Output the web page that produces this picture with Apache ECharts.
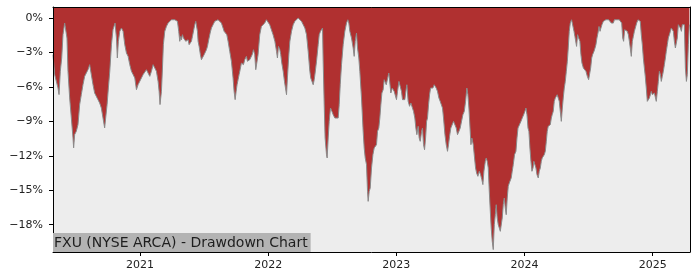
<!DOCTYPE html>
<html>
<head>
<meta charset="utf-8">
<script src="https://cdn.jsdelivr.net/npm/echarts@6/dist/echarts.min.js"></script>
<style>
html,body{margin:0;padding:0;background:#fff;}
#c{width:700px;height:280px;}
</style>
</head>
<body>
<div id="c"></div>
<script>
// Decimal-year dates of the samples
const years = [
2020.321,2020.334,2020.347,2020.360,2020.368,2020.378,2020.389,2020.399,2020.412,2020.425,
2020.430,2020.438,2020.451,2020.464,2020.477,2020.482,2020.490,2020.503,2020.516,2020.529,
2020.542,2020.555,2020.568,2020.581,2020.594,2020.607,2020.620,2020.633,2020.646,2020.659,
2020.672,2020.685,2020.698,2020.711,2020.724,2020.732,2020.743,2020.753,2020.764,2020.777,
2020.789,2020.805,2020.816,2020.823,2020.831,2020.842,2020.855,2020.868,2020.881,2020.894,
2020.907,2020.920,2020.933,2020.946,2020.959,2020.972,2020.985,2020.998,2021.011,2021.024,
2021.037,2021.050,2021.063,2021.076,2021.089,2021.102,2021.115,
2021.128,2021.141,2021.149,2021.156,2021.162,2021.167,2021.175,2021.182,2021.193,2021.206,
2021.219,2021.232,2021.245,2021.258,2021.271,2021.284,2021.292,2021.297,2021.302,2021.310,
2021.318,2021.323,2021.331,2021.339,2021.349,2021.357,2021.367,2021.375,2021.383,2021.391,
2021.401,2021.409,2021.417,2021.427,2021.435,2021.443,2021.448,2021.453,2021.461,2021.471,
2021.479,2021.484,2021.492,2021.500,2021.510,2021.518,2021.526,2021.536,2021.547,2021.557,
2021.570,2021.583,2021.596,2021.609,2021.622,2021.635,2021.648,2021.656,2021.666,2021.677,
2021.687,2021.700,2021.713,2021.726,2021.734,2021.742,2021.750,2021.757,2021.765,2021.773,
2021.781,2021.791,2021.799,2021.807,2021.817,2021.830,2021.838,2021.849,2021.856,2021.864,
2021.875,2021.885,2021.895,2021.903,2021.911,2021.921,2021.934,2021.947,2021.960,2021.973,
2021.986,2021.999,2022.012,2022.025,2022.038,2022.052,2022.065,2022.072,2022.080,2022.091,
2022.098,2022.106,2022.117,2022.127,2022.135,2022.143,2022.150,2022.161,2022.169,2022.182,
2022.195,2022.208,2022.221,2022.234,2022.247,2022.260,2022.273,2022.286,2022.299,2022.312,
2022.325,2022.332,2022.340,2022.351,2022.359,2022.366,2022.377,2022.390,2022.398,2022.408,
2022.418,2022.424,2022.429,2022.437,2022.444,2022.455,2022.460,2022.468,2022.476,2022.486,
2022.497,2022.507,2022.520,2022.533,2022.546,2022.554,2022.562,2022.572,2022.585,2022.598,
2022.611,2022.621,2022.629,2022.637,2022.650,2022.663,2022.671,2022.679,2022.689,2022.697,
2022.707,2022.715,2022.728,2022.741,2022.749,2022.757,2022.767,
2022.775,2022.780,2022.788,2022.796,2022.806,2022.817,2022.827,2022.837,2022.845,2022.853,
2022.863,2022.871,2022.879,2022.887,2022.897,2022.905,2022.913,2022.921,2022.931,2022.941,
2022.949,2022.957,2022.968,2022.975,2022.983,2022.994,2023.001,2023.009,2023.020,2023.030,
2023.040,2023.048,2023.059,2023.066,2023.074,2023.082,2023.092,2023.103,2023.113,2023.124,
2023.134,2023.144,2023.152,2023.160,2023.170,2023.178,2023.186,2023.197,2023.204,2023.212,
2023.220,2023.228,2023.236,2023.243,2023.251,2023.259,2023.267,2023.275,2023.285,2023.295,
2023.303,2023.311,2023.321,2023.332,2023.342,2023.353,2023.360,2023.368,2023.379,2023.389,
2023.399,2023.407,2023.415,2023.425,2023.436,2023.446,2023.457,2023.467,2023.477,2023.488,
2023.498,2023.509,2023.519,2023.530,2023.540,2023.550,2023.558,2023.566,
2023.582,2023.589,2023.600,2023.610,2023.618,2023.626,2023.636,2023.647,2023.657,2023.667,
2023.675,2023.683,2023.694,2023.701,2023.709,2023.717,2023.725,2023.733,2023.740,2023.748,
2023.756,2023.764,2023.772,2023.779,2023.787,2023.795,2023.803,2023.811,2023.818,2023.826,
2023.834,2023.842,2023.850,2023.857,2023.865,2023.873,2023.881,2023.889,2023.896,2023.904,
2023.912,2023.922,2023.933,2023.941,2023.949,2023.956,2023.964,2023.972,2023.982,2023.993,
2024.003,2024.011,2024.019,2024.027,2024.034,2024.042,2024.050,2024.058,2024.066,2024.073,
2024.081,2024.089,2024.097,2024.107,2024.115,2024.123,2024.131,2024.138,2024.146,2024.154,
2024.162,2024.170,2024.177,2024.185,2024.193,2024.201,2024.209,2024.216,2024.224,2024.232,
2024.240,2024.248,2024.255,2024.263,2024.271,2024.279,2024.287,2024.295,2024.302,2024.310,
2024.318,2024.326,2024.334,2024.341,2024.349,2024.357,2024.367,2024.375,2024.386,2024.393,
2024.401,2024.406,2024.414,2024.422,2024.432,
2024.440,2024.448,2024.459,2024.469,2024.479,2024.490,2024.500,2024.508,2024.516,2024.524,
2024.531,2024.542,2024.550,2024.557,2024.565,2024.573,2024.581,2024.589,2024.596,2024.604,
2024.615,2024.625,2024.635,2024.646,2024.656,2024.667,2024.677,2024.685,2024.693,2024.701,
2024.711,2024.719,2024.729,2024.739,2024.750,2024.758,2024.766,2024.773,2024.781,2024.792,
2024.802,2024.810,2024.818,2024.825,2024.833,2024.841,2024.849,2024.857,2024.864,2024.875,
2024.885,2024.896,2024.903,2024.911,2024.919,2024.927,2024.935,2024.942,2024.950,2024.958,
2024.966,2024.974,2024.982,2024.989,2024.997,2025.005,2025.013,2025.021,2025.028,2025.036,
2025.044,2025.052,2025.060,2025.067,2025.075,2025.083,2025.091,2025.099,2025.106,2025.114,
2025.122,2025.130,2025.138,2025.145,2025.153,2025.161,2025.169,2025.177,2025.184,2025.192,
2025.200,2025.208,2025.216,2025.224,2025.231,2025.239,2025.247,2025.255,2025.263,2025.270,
2025.278,2025.286
];
// Drawdown in percent
const drawdown = [
-3.19,-4.93,-5.08,-6.09,-6.67,-4.64,-3.48,-1.45,-0.44,-0.44,
-1.74,-4.64,-6.96,-8.70,-10.44,-11.31,-10.15,-9.86,-9.28,-7.54,
-6.67,-5.80,-5.08,-4.93,-4.50,-4.06,-4.93,-5.80,-6.53,-6.67,
-7.11,-7.40,-7.83,-8.70,-9.57,-8.70,-7.54,-6.09,-4.64,-2.32,
-1.02,-0.44,-1.74,-3.48,-2.03,-1.16,-0.87,-1.16,-2.32,-3.05,
-3.34,-4.06,-4.64,-4.93,-5.22,-6.24,-5.80,-5.66,-5.22,-4.93,
-4.79,-4.50,-4.64,-5.08,-4.64,-4.06,-3.92,
-4.64,-5.52,-6.39,-7.54,-7.69,-6.39,-4.35,-2.32,-1.16,-0.73,
-0.44,-0.29,-0.15,0,-0.15,-0.15,-0.29,-0.15,-1.16,-2.03,
-1.60,-1.89,-1.45,-1.74,-1.74,-2.03,-1.89,-1.89,-2.32,-2.18,
-2.03,-1.60,-1.45,-0.58,-0.29,-0.15,-1.16,-2.03,-2.47,-3.19,
-3.63,-3.77,-3.48,-3.19,-3.05,-2.76,-2.47,-1.89,-1.31,-0.87,
-0.58,-0.29,-0.15,-0.15,-0.15,-0.44,-0.87,-1.16,-1.02,-1.45,
-2.03,-2.90,-3.77,-5.22,-6.39,-7.11,-6.39,-5.81,-5.37,-4.93,
-4.50,-3.92,-3.77,-4.06,-3.63,-3.34,-3.77,-3.92,-3.63,-3.77,
-3.19,-2.76,-3.19,-4.50,-4.64,-3.19,-1.45,-0.73,-0.58,-0.44,
-0.15,-0.29,-0.58,-1.02,-1.45,-2.03,-2.90,-3.48,-2.47,-2.76,
-3.19,-3.92,-4.64,-5.52,-6.10,-6.68,-5.22,-3.19,-2.03,-1.16,
-0.58,-0.29,-0.15,0,-0.15,-0.29,-0.58,-0.87,-1.45,-2.90,
-4.64,-5.22,-5.08,-5.81,-5.37,-4.79,-3.77,-2.32,-1.45,-1.16,
-1.02,-0.87,-3.77,-7.55,-10.45,-11.90,-12.19,-10.45,-9.00,-7.84,
-8.13,-8.42,-8.71,-8.85,-8.71,-7.55,-5.81,-4.06,-2.32,-1.16,
-0.44,-0.15,-0.44,-1.16,-1.74,-2.61,-3.34,-2.03,-1.31,-2.61,
-3.48,-4.64,-6.97,-9.87,-11.32,-12.19,-12.77,
-15.10,-15.97,-15.10,-14.81,-13.06,-11.90,-11.32,-11.17,-11.03,-9.87,
-9.58,-8.71,-7.55,-6.53,-6.24,-5.37,-5.22,-5.81,-5.95,-4.79,
-5.66,-6.53,-6.10,-6.10,-6.39,-6.24,-7.11,-6.39,-5.52,-5.37,
-6.39,-7.11,-6.97,-7.11,-6.39,-5.81,-7.26,-7.69,-7.40,-7.55,
-8.13,-8.71,-9.58,-10.16,-9.43,-10.45,-10.74,-9.87,-9.58,-11.03,
-11.47,-10.45,-9.00,-8.71,-7.55,-6.68,-6.10,-5.95,-6.10,-5.81,
-5.66,-6.10,-6.39,-6.97,-7.26,-7.11,-7.84,-8.71,-10.16,-11.03,
-11.61,-11.03,-10.30,-9.58,-9.58,-9.00,-9.14,-9.58,-10.16,-9.87,
-9.58,-9.72,-8.42,-8.13,-7.26,-6.10,-6.68,-7.84,
-11.03,-10.45,-11.03,-12.19,-13.06,-13.50,-13.79,-13.35,-13.64,-14.08,
-14.51,-13.35,-12.48,-12.19,-12.48,-13.06,-15.10,-16.84,-18.29,-19.45,
-20.17,-18.00,-17.13,-16.26,-17.42,-18.00,-18.29,-18.58,-18.43,-17.42,
-16.26,-15.68,-16.55,-17.13,-15.68,-14.66,-14.37,-14.22,-13.93,-13.35,
-12.77,-11.90,-11.61,-10.45,-9.58,-9.72,-9.58,-9.00,-8.71,-8.42,
-8.13,-7.84,-8.42,-9.58,-9.87,-11.32,-12.48,-13.35,-13.06,-12.48,
-12.48,-13.06,-13.64,-13.93,-13.35,-13.06,-12.48,-12.19,-12.05,-11.90,
-11.61,-10.74,-9.87,-9.43,-9.58,-9.29,-8.71,-8.42,-8.13,-7.26,
-6.97,-6.82,-6.68,-6.53,-7.26,-8.13,-9.00,-7.84,-6.97,-6.10,
-5.52,-4.64,-3.77,-2.61,-1.16,-0.44,-0.15,-0.29,-1.16,-1.60,
-1.74,-2.47,-1.45,-1.74,-2.03,
-3.19,-3.92,-4.35,-4.50,-4.64,-5.08,-5.37,-5.52,-4.35,-3.48,
-3.19,-2.90,-2.61,-2.32,-1.74,-1.31,-0.73,-1.16,-0.87,-0.58,
-0.29,-0.15,-0.15,-0.29,-0.15,-0.29,-0.44,-0.29,-0.44,-0.15,
-0.29,-0.15,-0.15,-0.15,-0.29,-0.44,-1.74,-2.03,-1.02,-0.87,
-1.16,-1.45,-2.03,-2.61,-3.34,-2.03,-1.60,-1.16,-0.87,-0.44,
-0.15,-0.15,-0.29,-1.45,-2.32,-3.48,-4.35,-5.08,-6.10,-7.26,
-7.11,-6.97,-6.68,-6.39,-6.68,-6.82,-6.53,-6.68,-7.26,-6.39,
-5.52,-4.64,-4.93,-5.52,-5.08,-4.64,-4.06,-3.48,-2.90,-2.32,
-1.74,-1.45,-1.16,-0.87,-0.73,-1.16,-2.03,-2.61,-2.47,-1.74,
-0.58,-0.73,-0.87,-1.16,-0.58,-0.44,-0.58,-4.35,-5.52,-4.93,
-2.32,-0.58
];
const xTicks = [2021, 2022, 2023, 2024, 2025];
const yTicks = [0, -3, -6, -9, -12, -15, -18];
const titleText = 'FXU (NYSE ARCA) - Drawdown Chart';

const chart = echarts.init(document.getElementById('c'), null, {renderer: 'canvas'});
const font = 'DejaVu Sans';
const fmtPct = v => (v < 0 ? '\u2212' : '') + Math.abs(v) + '%';
chart.setOption({
  animation: false,
  backgroundColor: '#ffffff',
  textStyle: {fontFamily: font},
  title: {
    text: titleText,
    left: 53,
    top: 233,
    padding: [3, 3, 1, 1],
    backgroundColor: '#b3b3b3',
    textStyle: {fontFamily: font, fontSize: 14, fontWeight: 'normal', color: '#1e1e1e', lineHeight: 15},
    z: 20
  },
  grid: {left: 53, right: 10, top: 7, bottom: 28, show: true, backgroundColor: '#ededed', borderWidth: 0},
  xAxis: [{
    type: 'value', min: 2020.321, max: 2025.291,
    splitLine: {show: false},
    axisLine: {show: true, onZero: false, lineStyle: {color: '#000', width: 1}},
    axisTick: {show: true, length: 4, lineStyle: {color: '#000'}, customValues: xTicks},
    axisLabel: {customValues: xTicks, formatter: v => String(v), fontSize: 11, color: '#222', margin: 8, fontFamily: font},
    z: 10
  }, {
    type: 'value', position: 'top', min: 2020.321, max: 2025.291,
    splitLine: {show: false}, axisTick: {show: false}, axisLabel: {show: false},
    axisLine: {show: true, onZero: false, lineStyle: {color: '#000', width: 1}},
    z: 10
  }],
  yAxis: [{
    type: 'value', min: -20.38, max: 0.96,
    splitLine: {show: false},
    axisLine: {show: true, onZero: false, lineStyle: {color: '#000', width: 1}},
    axisTick: {show: true, length: 4, lineStyle: {color: '#000'}, customValues: yTicks},
    axisLabel: {customValues: yTicks, formatter: fmtPct, fontSize: 11, color: '#222', margin: 10, fontFamily: font},
    z: 10
  }, {
    type: 'value', position: 'right', min: -20.38, max: 0.96,
    splitLine: {show: false}, axisTick: {show: false}, axisLabel: {show: false},
    axisLine: {show: true, onZero: false, lineStyle: {color: '#000', width: 1}},
    z: 10
  }],
  series: [{
    type: 'line',
    xAxisIndex: 0, yAxisIndex: 0,
    data: years.map((y, i) => [y, drawdown[i]]),
    showSymbol: false,
    symbol: 'none',
    lineStyle: {color: '#8a8a8a', width: 1},
    areaStyle: {color: '#b03030', opacity: 1, origin: 'end'},
    z: 2
  }]
});
</script>
</body>
</html>
